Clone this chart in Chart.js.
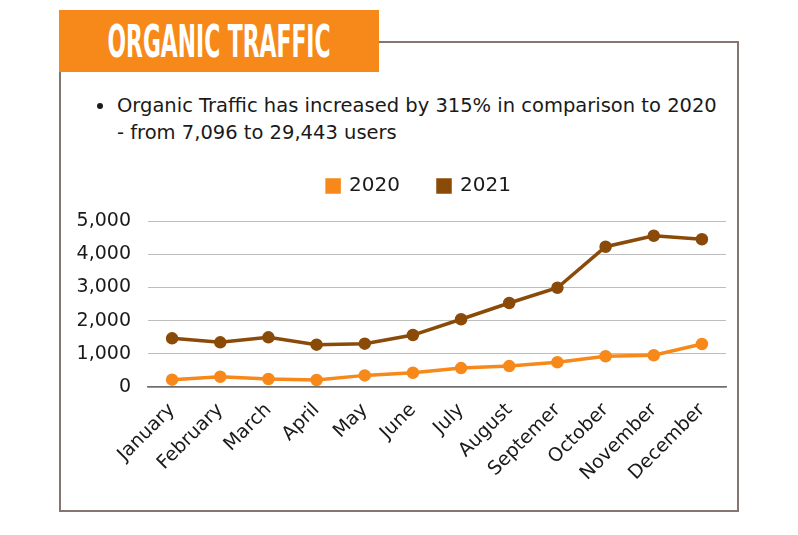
<!DOCTYPE html>
<html>
<head>
<meta charset="utf-8">
<script src="https://cdn.jsdelivr.net/npm/chart.js@4.4.1/dist/chart.umd.min.js"></script>
<style>
  html, body { margin: 0; padding: 0; background: #fff; }
  body { width: 798px; height: 535px; position: relative; overflow: hidden; font-family: "DejaVu Sans", sans-serif; }
  #frame { position: absolute; left: 59px; top: 41px; width: 676px; height: 467px; border: 2px solid #857670; }
  #titleBox { position: absolute; left: 59px; top: 10px; width: 320px; height: 62px; background: #f7891a; overflow: hidden; }
  #titleText { position: absolute; left: -100px; top: 0; width: 520px; height: 62px; line-height: 64px; text-align: center;
    white-space: nowrap; color: #fff; font-family: "Liberation Sans Narrow", "DejaVu Sans Condensed", sans-serif;
    font-weight: bold; font-size: 45px; transform: scaleX(0.54); transform-origin: 260px 50%; }
  #bullet { position: absolute; left: 93px; top: 92px; font-size: 19.5px; line-height: 27px; color: #1a1a1a; }
  #bullet .dot { position: absolute; left: 4px; top: 11px; width: 6px; height: 6px; border-radius: 50%; background: #1a1a1a; }
  #bullet .txt { margin-left: 24px; white-space: nowrap; }
  #wrap { position: absolute; left: 62px; top: 150px; width: 674px; height: 358px; }
</style>
</head>
<body>
<div id="frame"></div>
<div id="titleBox"><div id="titleText">ORGANIC TRAFFIC</div></div>
<div id="bullet">
  <div class="dot"></div>
  <div class="txt">Organic Traffic has increased by 315% in comparison to 2020</div>
  <div class="txt">- from 7,096 to 29,443 users</div>
</div>
<div id="wrap"><canvas id="chart"></canvas></div>
<script>
const months = ["January", "February", "March", "April", "May", "June",
  "July", "August", "Septemer", "October", "November", "December"];
const traffic2020 = [220, 310, 240, 210, 350, 430, 570, 630, 745, 925, 955, 1295];
const traffic2021 = [1465, 1345, 1495, 1275, 1305, 1565, 2040, 2530, 2990, 4225, 4555, 4450];
const yTicks = [0, 1000, 2000, 3000, 4000, 5000];

const ORANGE = "#f7891a";
const BROWN = "#8a4a08";

const ctx = document.getElementById("chart").getContext("2d");

function series(label, data, color) {
  return {
    label,
    data,
    borderColor: color,
    backgroundColor: color,
    pointBackgroundColor: color,
    pointBorderColor: color,
    borderWidth: 3.5,
    pointRadius: 4.5,
    pointHoverRadius: 4.5,
    tension: 0
  };
}

// legend sits a bit right of and above where chart.js would centre it
const legendNudge = {
  id: "legendNudge",
  afterLayout(chart) {
    const lg = chart.legend;
    lg.left += 25; lg.right += 25;
    lg.top -= 15; lg.bottom -= 15;
  }
};

new Chart(ctx, {
  type: "line",
  data: {
    labels: months,
    datasets: [
      series("2020", traffic2020, ORANGE),
      series("2021", traffic2021, BROWN)
    ]
  },
  plugins: [legendNudge],
  options: {
    responsive: true,
    maintainAspectRatio: false,
    animation: false,
    layout: { padding: { left: 0, right: 10, top: 3, bottom: 4 } },
    plugins: {
      tooltip: { enabled: false },
      legend: {
        position: "top",
        labels: {
          boxWidth: 12,
          boxHeight: 12,
          padding: 38,
          color: "#1a1a1a",
          font: { family: "DejaVu Sans", size: 20 }
        }
      }
    },
    scales: {
      x: {
        offset: true,
        grid: { display: false },
        border: { display: true, color: "#6e6e6e", width: 1.5 },
        ticks: {
          color: "#1a1a1a",
          font: { family: "DejaVu Sans", size: 19 },
          maxRotation: 45,
          minRotation: 45,
          padding: 4
        },
        afterFit: s => { s.height = 117; }
      },
      y: {
        min: 0,
        max: 5000,
        afterBuildTicks: s => { s.ticks = yTicks.map(v => ({ value: v })); },
        grid: { color: "#bdbdbd", lineWidth: 1, drawTicks: false },
        border: { display: false },
        ticks: {
          color: "#1a1a1a",
          font: { family: "DejaVu Sans", size: 19 },
          padding: 17,
          callback: v => v.toLocaleString("en-US")
        },
        afterFit: s => { s.width = 86; }
      }
    }
  }
});
</script>
</body>
</html>
